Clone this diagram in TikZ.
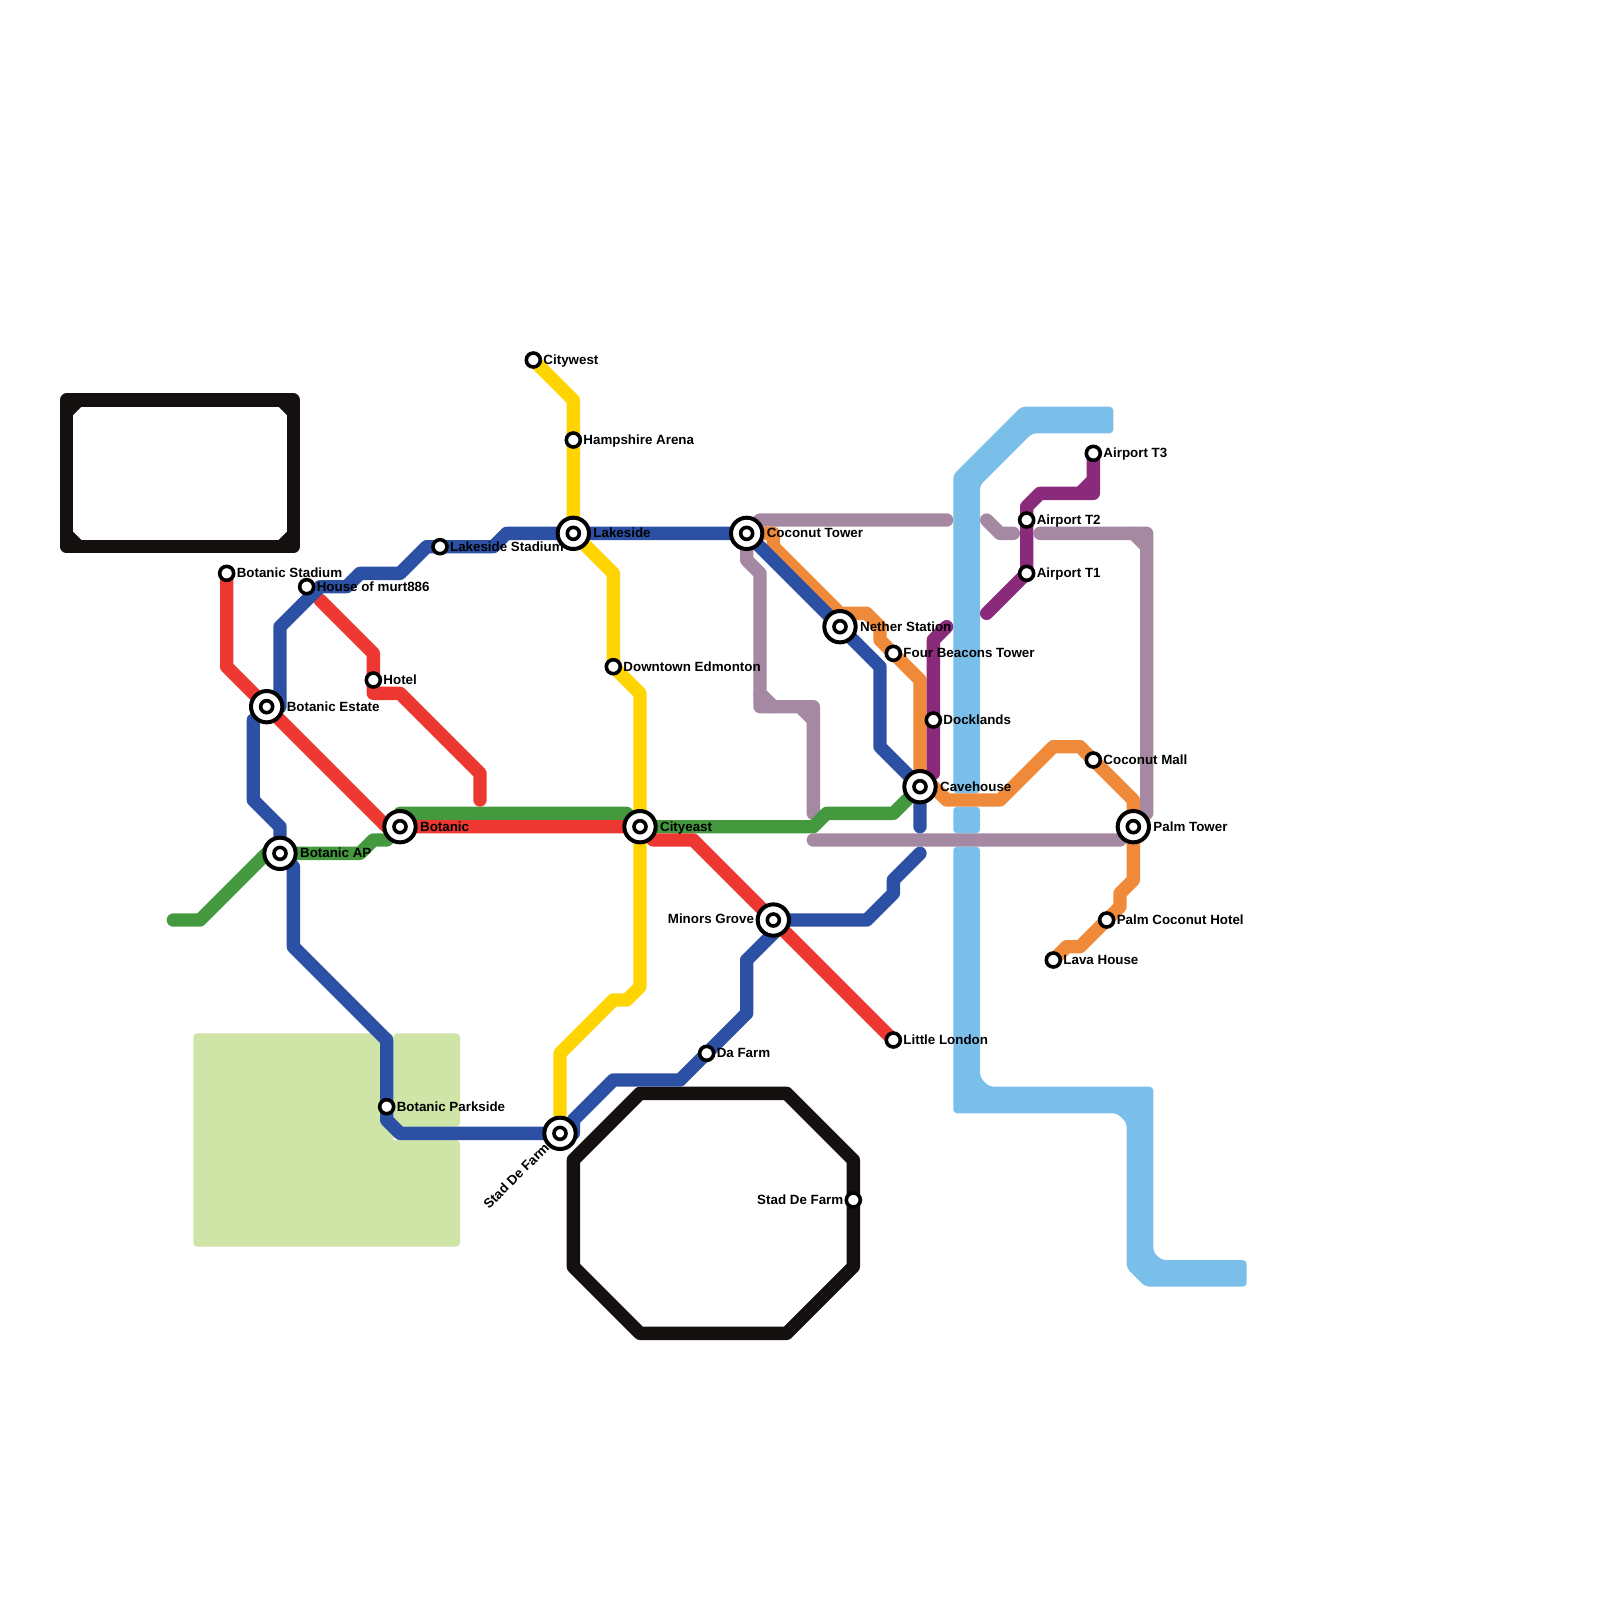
\documentclass[tikz,border=0pt]{standalone}
\usepackage{fontspec}
\setmainfont{Liberation Sans}[BoldFont=Liberation Sans Bold]
\pgfdeclarelayer{lines}
\pgfsetlayers{lines,main}
\definecolor{cred}{HTML}{EC3831}
\definecolor{cblue}{HTML}{2C50A4}
\definecolor{cgreen}{HTML}{44993E}
\definecolor{cyellow}{HTML}{FFD403}
\definecolor{corange}{HTML}{EF8A3A}
\definecolor{cpurple}{HTML}{8A2A7B}
\definecolor{cmauve}{HTML}{A589A2}
\definecolor{criver}{HTML}{7ABEEA}
\definecolor{cpark}{HTML}{CFE4A7}
\definecolor{cblack}{HTML}{151010}
\tikzset{
  x=1mm,y=-1mm,
  metro/.style={line width=1mm,line cap=round,line join=round,draw=#1},
  river/.style={fill=criver,draw=none,rounded corners=.3mm},
  park/.style={fill=cpark,draw=none,rounded corners=.3mm},
  smallst/.style={circle,draw=black,fill=white,line width=.27mm,minimum size=1.05mm,inner sep=0pt},
  bigst/.style={circle,draw=black,fill=white,line width=.3mm,minimum size=2.35mm,inner sep=0pt,
    path picture={\draw[black,line width=.27mm,fill=white] (path picture bounding box.center) circle (.45mm);}},
  lab/.style={font=\bfseries\fontsize{2.85pt}{3.4pt}\selectfont,text=black,inner sep=0pt,anchor=mid west,xshift=-.06mm,yshift=.54mm},
  labl/.style={lab,anchor=mid east,xshift=.08mm},
  labr/.style={font=\bfseries\fontsize{2.85pt}{3.4pt}\selectfont,text=black,inner sep=0pt,anchor=mid east,rotate=45},
}
\begin{document}
\begin{tikzpicture}
\useasboundingbox (0,0) rectangle (120,120);
% stations
\node[smallst] (BStad) at (17,43) {};
\node[smallst] (House) at (23,44) {};
\node[smallst] (Hotel) at (28,51) {};
\node[smallst] (LStad) at (33,41) {};
\node[smallst] (City) at (40,27) {};
\node[smallst] (Hamp) at (43,33) {};
\node[smallst] (Down) at (46,50) {};
\node[smallst] (Four) at (67,49) {};
\node[smallst] (Dock) at (70,54) {};
\node[smallst] (T1) at (77,43) {};
\node[smallst] (T2) at (77,39) {};
\node[smallst] (T3) at (82,34) {};
\node[smallst] (CMall) at (82,57) {};
\node[smallst] (PHotel) at (83,69) {};
\node[smallst] (Lava) at (79,72) {};
\node[smallst] (Little) at (67,78) {};
\node[smallst] (DaFarm) at (53,79) {};
\node[smallst] (BPark) at (29,83) {};
\node[smallst] (SFarmE) at (64,90) {};
\node[bigst] (BEst) at (20,53) {};
\node[bigst] (BAP) at (21,64) {};
\node[bigst] (Botanic) at (30,62) {};
\node[bigst] (Lakeside) at (43,40) {};
\node[bigst] (Coconut) at (56,40) {};
\node[bigst] (Nether) at (63,47) {};
\node[bigst] (Cave) at (69,59) {};
\node[bigst] (Cityeast) at (48,62) {};
\node[bigst] (Minors) at (58,69) {};
\node[bigst] (Palm) at (85,62) {};
\node[bigst] (SFarm) at (42,85) {};
% labels
\node[lab] (lBStad) at (17.75,42.95) {Botanic Stadium};
\node[lab] (lHouse) at (23.75,43.95) {House of murt886};
\node[lab] (lHotel) at (28.75,50.95) {Hotel};
\node[lab] (lLStad) at (33.75,40.95) {Lakeside Stadium};
\node[lab] (lCity) at (40.75,26.95) {Citywest};
\node[lab] (lHamp) at (43.75,32.95) {Hampshire Arena};
\node[lab] (lDown) at (46.75,49.95) {Downtown Edmonton};
\node[lab] (lFour) at (67.75,48.95) {Four Beacons Tower};
\node[lab] (lDock) at (70.75,53.95) {Docklands};
\node[lab] (lT1) at (77.75,42.95) {Airport T1};
\node[lab] (lT2) at (77.75,38.95) {Airport T2};
\node[lab] (lT3) at (82.75,33.95) {Airport T3};
\node[lab] (lCMall) at (82.75,56.95) {Coconut Mall};
\node[lab] (lPHotel) at (83.75,68.95) {Palm Coconut Hotel};
\node[lab] (lLava) at (79.75,71.95) {Lava House};
\node[lab] (lLittle) at (67.75,77.95) {Little London};
\node[lab] (lDaFarm) at (53.75,78.95) {Da Farm};
\node[lab] (lBPark) at (29.75,82.95) {Botanic Parkside};
\node[labl] (lSFarmE) at (63.3,89.95) {Stad De Farm};
\node[lab] (lBEst) at (21.5,52.95) {Botanic Estate};
\node[lab] (lBAP) at (22.5,63.95) {Botanic AP};
\node[lab] (lBotanic) at (31.5,61.95) {Botanic};
\node[lab] (lLakeside) at (44.5,39.95) {Lakeside};
\node[lab] (lCoconut) at (57.5,39.95) {Coconut Tower};
\node[lab] (lNether) at (64.5,46.95) {Nether Station};
\node[lab] (lCave) at (70.5,58.95) {Cavehouse};
\node[lab] (lCityeast) at (49.5,61.95) {Cityeast};
\node[labl] (lMinors) at (56.6,68.9) {Minors Grove};
\node[lab] (lPalm) at (86.5,61.95) {Palm Tower};
\node[labr] (lSFarm) at (40.65,85.45) {Stad De Farm};
\begin{pgfonlayer}{lines}
% park
\fill[park] (14.5,77.5) rectangle (29.5,93.5);
\fill[park] (29.5,77.5) rectangle (34.5,84.5);
\fill[park] (29,85.5) rectangle (34.5,93.5);
% river
\fill[river] (71.5,59.5) -- (71.5,35.6) -- (76.6,30.5) -- (83.5,30.5) -- (83.5,32.5) -- (77.4,32.5) -- (73.5,36.4) -- (73.5,59.5) -- cycle;
\fill[river] (71.5,60.5) rectangle (73.5,62.5);
\fill[river] (71.5,63.5) -- (73.5,63.5) -- (73.5,80.8) -- (74.2,81.5) -- (86.5,81.5) -- (86.5,93.9) -- (87.1,94.5) -- (93.5,94.5) -- (93.5,96.5) -- (85.9,96.5) -- (84.5,95.1) -- (84.5,84.2) -- (83.8,83.5) -- (71.5,83.5) -- cycle;
% black
\draw[metro=cblack] (5,30) -- (22,30) -- (22,41) -- (5,41) -- cycle;
\fill[cblack] (5.4,30.4) -- (6.2,30.4) -- (5.4,31.2) -- cycle;
\fill[cblack] (21.6,30.4) -- (20.8,30.4) -- (21.6,31.2) -- cycle;
\fill[cblack] (21.6,40.6) -- (20.8,40.6) -- (21.6,39.8) -- cycle;
\fill[cblack] (5.4,40.6) -- (6.2,40.6) -- (5.4,39.8) -- cycle;
\draw[metro=cblack] (48,82) -- (59,82) -- (64,87) -- (64,95) -- (59,100) -- (48,100) -- (43,95) -- (43,87) -- cycle;
% mauve
\draw[metro=cmauve] (Coconut.center) -- (57,39) -- (71,39);
\draw[metro=cmauve] (Coconut.center) -- (56,42) -- (57,43) -- (57,53) -- (61,53) -- (61,61);
\draw[metro=cmauve] (57,52) -- (58,53) (60,53) -- (61,54);
\draw[metro=cmauve] (74,39) -- (75,40) -- (76,40);
\draw[metro=cmauve] (78,40) -- (86,40) -- (86,61) -- (Palm.center);
\draw[metro=cmauve] (85,40) -- (86,41);
\draw[metro=cmauve] (61,63) -- (84,63) -- (Palm.center);
% green
\draw[metro=cgreen] (13,69) -- (15,69) -- (20,64) -- (BAP.center) -- (27,64) -- (28,63) -- (29,63) -- (Botanic.center) -- (30,61) -- (47,61) -- (Cityeast.center) -- (61,62) -- (62,61) -- (67,61) -- (Cave.center);
% second red
\draw[metro=cred] (24,45) -- (28,49) -- (Hotel.center) -- (28,52) -- (30,52) -- (36,58) -- (36,60);
% orange
\draw[metro=corange] (Coconut.center) -- (58,40) -- (58,41) -- (63,46) -- (65,46) -- (66,47) -- (66,48) -- (Four.center) -- (69,51) -- (Cave.center) -- (70,59) -- (71,60) -- (75,60) -- (79,56) -- (81,56) -- (CMall.center) -- (85,60) -- (Palm.center) -- (85,66) -- (84,67) -- (84,68) -- (PHotel.center) -- (81,71) -- (80,71) -- (Lava.center);
% blue
\draw[metro=cblue] (BEst.center) -- (21,53) -- (21,47) -- (23,45) -- (24,44) -- (26,44) -- (27,43) -- (30,43) -- (32,41) -- (LStad.center) -- (37,41) -- (38,40) -- (Lakeside.center) -- (Coconut.center) -- (Nether.center) -- (66,50) -- (66,56) -- (Cave.center) -- (69,62);
\draw[metro=cblue] (19,54) -- (19,60) -- (21,62) -- (BAP.center) -- (22,65) -- (22,71) -- (29,78) -- (BPark.center) -- (29,84) -- (30,85) -- (SFarm.center) -- (43,85) -- (43,84) -- (46,81) -- (51,81) -- (DaFarm.center) -- (56,76) -- (56,72) -- (59,69) -- (65,69) -- (67,67) -- (67,66) -- (69,64);
% main red
\draw[metro=cred] (BStad.center) -- (17,50) -- (BEst.center) -- (29,62) -- (Botanic.center) -- (Cityeast.center) -- (49,63) -- (52,63) -- (Minors.center) -- (Little.center);
% yellow
\draw[metro=cyellow] (City.center) -- (43,30) -- (Hamp.center) -- (Lakeside.center) -- (46,43) -- (Down.center) -- (48,52) -- (Cityeast.center) -- (48,74) -- (47,75) -- (46,75) -- (42,79) -- (SFarm.center);
% purple
\draw[metro=cpurple] (70,58) -- (Dock.center) -- (70,48) -- (71,47);
\draw[metro=cpurple] (74,46) -- (T1.center) -- (T2.center) -- (77,38) -- (78,37) -- (82,37) -- (T3.center);
\draw[metro=cpurple] (81,37) -- (82,36);
\end{pgfonlayer}
\end{tikzpicture}
\end{document}
